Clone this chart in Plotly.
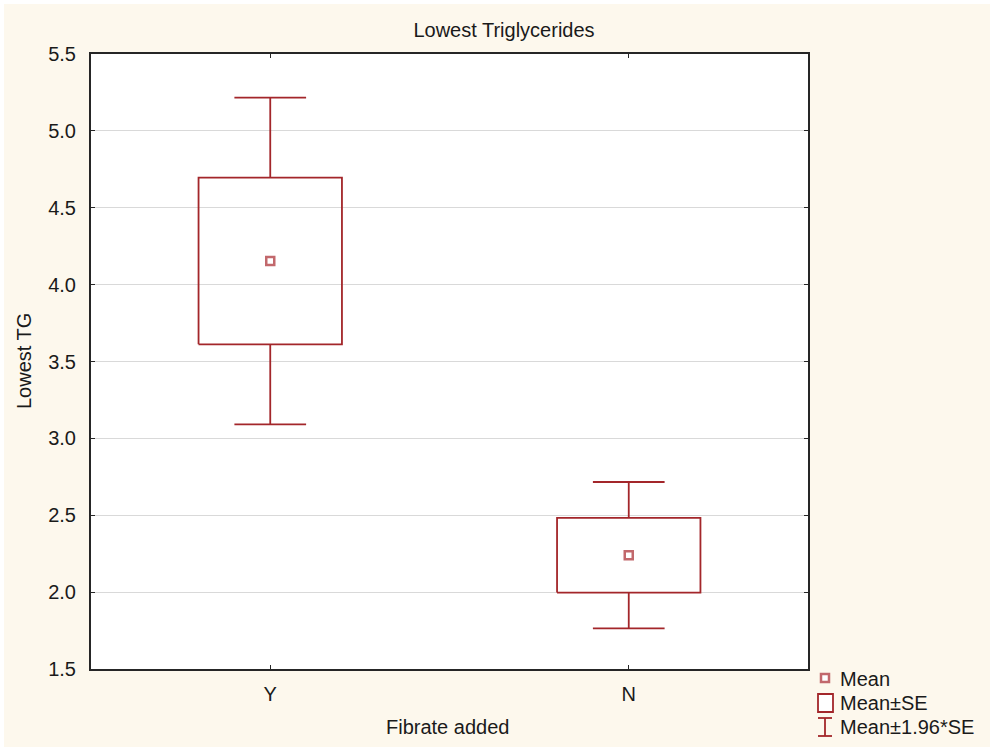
import plotly.graph_objects as go

# Lowest triglycerides by whether a fibrate was added: mean, SE box, 1.96*SE whiskers
groups = ["Y", "N"]
means = [4.154, 2.240]
se = [0.542, 0.243]
z = 1.96

W, H = 994, 751
L, R, T, B = 91, 186, 54, 82
plot_w = W - L - R
plot_h = H - T - B

BOX_COLOR = "#A3262A"
MEAN_COLOR = "#C2686C"
BG = "#FDF8ED"
FONT = "Liberation Sans, Arial, sans-serif"
TEXT = "#1A1A1A"
FS = 20
LW = 1.8


def px(xp):
    return (xp - L) / plot_w


def py(yp):
    return (H - B - yp) / plot_h


fig = go.Figure()

box_half = 0.2
cap_half = 0.1
for i, (g, m, s) in enumerate(zip(groups, means, se)):
    lo, hi = m - s, m + s
    lo2, hi2 = m - z * s, m + z * s
    xs = [i - box_half, i + box_half, i + box_half, i - box_half, i - box_half, None,
          i, i, None, i, i, None,
          i - cap_half, i + cap_half, None, i - cap_half, i + cap_half]
    ys = [lo, lo, hi, hi, lo, None,
          hi, hi2, None, lo, lo2, None,
          hi2, hi2, None, lo2, lo2]
    fig.add_trace(go.Scatter(
        x=xs, y=ys, mode="lines",
        line=dict(color=BOX_COLOR, width=LW),
        showlegend=False, hoverinfo="skip",
    ))

fig.add_trace(go.Scatter(
    x=list(range(len(groups))), y=means, mode="markers",
    marker=dict(symbol="square", size=8, color="white",
                line=dict(color=MEAN_COLOR, width=2.5)),
    showlegend=False,
))

axis_common = dict(
    showline=True, linecolor="#262626", linewidth=2, mirror="ticks",
    ticks="inside", ticklen=4, tickcolor="#262626", tickwidth=1,
    tickfont=dict(family=FONT, size=FS, color=TEXT),
    zeroline=False,
)

fig.update_xaxes(
    range=[-0.5, len(groups) - 0.5],
    tickvals=list(range(len(groups))), ticktext=groups,
    showgrid=False, ticklabelstandoff=6,
    **axis_common,
)
fig.update_yaxes(
    range=[1.5, 5.5], dtick=0.5, tick0=1.5, tickformat=".1f",
    showgrid=True, gridcolor="#D9D9D9", gridwidth=1,
    ticklabelstandoff=9,
    **axis_common,
)

shapes = [
    # white frame around the page
    dict(type="rect", xref="paper", yref="paper",
         x0=px(0), x1=px(W), y0=py(H), y1=py(0),
         line=dict(color="white", width=8), fillcolor="rgba(0,0,0,0)", layer="above"),
    # legend glyph: mean
    dict(type="rect", xref="paper", yref="paper",
         x0=px(821), x1=px(829), y0=py(682), y1=py(674),
         line=dict(color=MEAN_COLOR, width=2.5), fillcolor="white"),
    # legend glyph: mean ± SE
    dict(type="rect", xref="paper", yref="paper",
         x0=px(818), x1=px(833), y0=py(712), y1=py(694),
         line=dict(color=BOX_COLOR, width=LW), fillcolor="white"),
    # legend glyph: mean ± 1.96*SE
    dict(type="line", xref="paper", yref="paper",
         x0=px(818), x1=px(832), y0=py(718), y1=py(718),
         line=dict(color=BOX_COLOR, width=LW)),
    dict(type="line", xref="paper", yref="paper",
         x0=px(825), x1=px(825), y0=py(718), y1=py(736),
         line=dict(color=BOX_COLOR, width=LW)),
    dict(type="line", xref="paper", yref="paper",
         x0=px(818), x1=px(832), y0=py(736), y1=py(736),
         line=dict(color=BOX_COLOR, width=LW)),
]

annotations = [
    dict(text="Lowest TG", xref="paper", yref="paper", x=px(24), y=py(361),
         textangle=-90, showarrow=False, xanchor="center", yanchor="middle",
         font=dict(family=FONT, size=FS, color=TEXT)),
    dict(text="Fibrate added", xref="paper", yref="paper", x=px(447), y=py(727),
         showarrow=False, xanchor="center", yanchor="middle",
         font=dict(family=FONT, size=FS, color=TEXT)),
]
for label, yc in [("Mean", 679), ("Mean±SE", 703), ("Mean±1.96*SE", 727)]:
    annotations.append(dict(
        text=label, xref="paper", yref="paper", x=px(838), y=py(yc),
        showarrow=False, xanchor="left", yanchor="middle",
        font=dict(family=FONT, size=FS, color=TEXT)))

fig.update_layout(
    width=W, height=H,
    margin=dict(l=L, r=R, t=T, b=B),
    paper_bgcolor=BG, plot_bgcolor="white",
    title=dict(text="Lowest Triglycerides", x=504 / W, xanchor="center",
               y=1 - 30 / H, yanchor="middle", yref="container",
               font=dict(family=FONT, size=FS, color=TEXT)),
    shapes=shapes, annotations=annotations,
    showlegend=False,
)

fig.write_html("out.html")
